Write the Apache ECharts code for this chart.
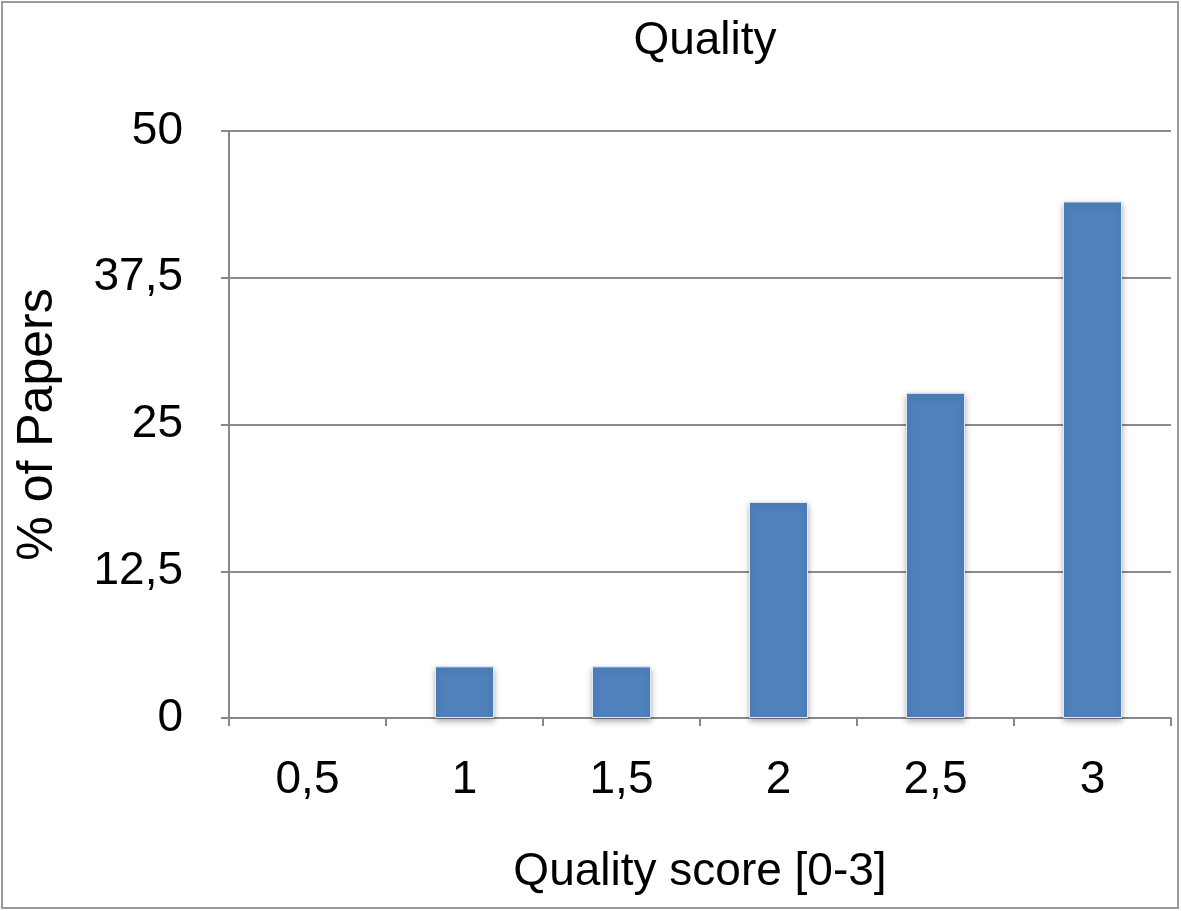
<!DOCTYPE html>
<html>
<head>
<meta charset="utf-8">
<script src="https://cdn.jsdelivr.net/npm/echarts@6/dist/echarts.min.js"></script>
<style>
html,body{margin:0;padding:0;background:#fff;}
#chart{width:1181px;height:911px;}
</style>
</head>
<body>
<div id="chart"></div>
<script>
const categories = ['0,5', '1', '1,5', '2', '2,5', '3'];
const values = [0, 4.4, 4.4, 18.4, 27.7, 44.0];
const yTicks = [0, 12.5, 25, 37.5, 50];
const titleText = 'Quality';
const xName = 'Quality score [0-3]';
const yName = '% of Papers';

const chart = echarts.init(document.getElementById('chart'), null, {renderer: 'canvas'});
const font = 'Liberation Sans, Arial, Helvetica, sans-serif';
chart.setOption({
  animation: false,
  backgroundColor: '#fff',
  graphic: [{
    type: 'rect', shape: {x: 2, y: 2, width: 1176, height: 906},
    style: {fill: 'none', stroke: '#9a9a9a', lineWidth: 2}, silent: true, z: 100
  }],
  title: {
    text: titleText, left: 700, top: 13, textAlign: 'center',
    textStyle: {fontFamily: font, fontSize: 46, fontWeight: 'normal', color: '#000'}
  },
  grid: {left: 229, right: 10, top: 131, bottom: 193},
  xAxis: {
    type: 'category', data: categories, boundaryGap: true,
    name: xName, nameLocation: 'middle', nameGap: 131,
    nameTextStyle: {fontFamily: font, fontSize: 46, color: '#000'},
    axisLine: {show: true, lineStyle: {color: '#888', width: 2}},
    axisTick: {show: true, alignWithLabel: false, length: 8, lineStyle: {color: '#888', width: 2}},
    axisLabel: {fontFamily: font, fontSize: 46, color: '#000', margin: 39}
  },
  yAxis: {
    type: 'value', min: 0, max: 50, interval: 12.5,
    name: yName, nameLocation: 'middle', nameGap: 166, nameRotate: 90,
    nameTextStyle: {fontFamily: font, fontSize: 50, color: '#000'},
    axisLine: {show: true, lineStyle: {color: '#888', width: 2}},
    axisTick: {show: true, length: 8, lineStyle: {color: '#888', width: 2}},
    axisLabel: {
      fontFamily: font, fontSize: 46, color: '#000', margin: 46,
      formatter: function (v) {
        const t = yTicks.find(x => Math.abs(x - v) < 1e-9);
        return String(t !== undefined ? t : v).replace('.', ',');
      }
    },
    splitLine: {show: true, lineStyle: {color: '#8c8c8c', width: 2}}
  },
  series: [{
    type: 'bar', barWidth: 59,
    data: values.map(v => v === 0 ? {value: v, itemStyle: {borderWidth: 0, shadowBlur: 0, opacity: 0}} : v),
    itemStyle: {
      color: '#4F81BD', borderColor: '#dfe8f3', borderWidth: 1,
      shadowBlur: 6, shadowColor: 'rgba(0,0,0,0.3)', shadowOffsetY: 3
    }
  }]
});
</script>
</body>
</html>
